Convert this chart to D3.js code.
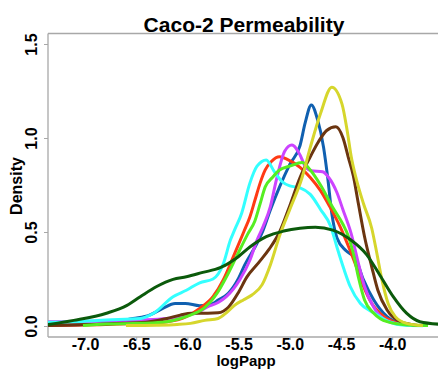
<!DOCTYPE html>
<html>
<head>
<meta charset="utf-8">
<script src="https://cdn.jsdelivr.net/npm/d3@7"></script>
<style>
    body { margin: 0; background: #fff; }
    text { font-family: "Liberation Sans", Arial, sans-serif; font-weight: bold; }
</style>
</head>
<body>
<div id="chart"></div>
<script>
// Tick labels
const xTicks = [-7.0, -6.5, -6.0, -5.5, -5.0, -4.5, -4.0];
const yTicks = [0.0, 0.5, 1.0, 1.5];

// Density curves, each as [logPapp, density]
const blueCurve = [[-7.4, 0.004], [-7.0, 0.008], [-6.79, 0.014], [-6.53, 0.04], [-6.37, 0.058], [-6.24, 0.094],
    [-6.12, 0.12], [-6.02, 0.12], [-5.88, 0.108], [-5.76, 0.118], [-5.7, 0.138], [-5.6, 0.174], [-5.5, 0.254],
    [-5.44, 0.325], [-5.32, 0.44], [-5.26, 0.51], [-5.19, 0.617], [-5.1, 0.74], [-5.0, 0.86], [-4.9, 0.96],
    [-4.85, 1.08], [-4.79, 1.176], [-4.73, 1.1], [-4.67, 0.95], [-4.63, 0.79], [-4.59, 0.6], [-4.54, 0.47],
    [-4.45, 0.4], [-4.36, 0.36], [-4.28, 0.245], [-4.18, 0.138], [-4.05, 0.05], [-3.92, 0.014], [-3.75, 0.002]];
const redCurve = [[-7.4, 0.003], [-6.8, 0.008], [-6.46, 0.014], [-6.2, 0.023], [-6.01, 0.05], [-5.88, 0.094],
    [-5.75, 0.156], [-5.65, 0.245], [-5.55, 0.37], [-5.45, 0.5], [-5.39, 0.58], [-5.34, 0.67], [-5.29, 0.76],
    [-5.24, 0.83], [-5.18, 0.875], [-5.1, 0.9], [-5.02, 0.885], [-4.9, 0.844], [-4.8, 0.79], [-4.7, 0.72],
    [-4.61, 0.635], [-4.51, 0.53], [-4.41, 0.4], [-4.35, 0.315], [-4.28, 0.21], [-4.2, 0.12], [-4.12, 0.068],
    [-3.99, 0.023], [-3.8, 0.003]];
const magentaCurve = [[-7.4, 0.023], [-6.79, 0.027], [-6.46, 0.032], [-6.2, 0.04], [-6.01, 0.058], [-5.91, 0.068],
    [-5.81, 0.1], [-5.7, 0.125], [-5.62, 0.156], [-5.49, 0.245], [-5.39, 0.35], [-5.32, 0.457], [-5.26, 0.53],
    [-5.19, 0.635], [-5.13, 0.78], [-5.05, 0.93], [-4.98, 0.963], [-4.9, 0.91], [-4.85, 0.85], [-4.79, 0.826],
    [-4.68, 0.82], [-4.62, 0.79], [-4.54, 0.71], [-4.48, 0.617], [-4.4, 0.49], [-4.33, 0.333], [-4.27, 0.21],
    [-4.18, 0.1], [-4.09, 0.04], [-3.96, 0.014], [-3.8, 0.002]];
const cyanCurve = [[-7.4, 0.02], [-7.11, 0.023], [-6.79, 0.032], [-6.46, 0.04], [-6.33, 0.068], [-6.14, 0.156],
    [-6.01, 0.19], [-5.88, 0.23], [-5.75, 0.25], [-5.65, 0.33], [-5.58, 0.457], [-5.54, 0.51], [-5.47, 0.6],
    [-5.39, 0.76], [-5.32, 0.85], [-5.23, 0.883], [-5.15, 0.82], [-5.08, 0.77], [-5.0, 0.745], [-4.9, 0.735],
    [-4.8, 0.7], [-4.7, 0.62], [-4.6, 0.53], [-4.54, 0.42], [-4.47, 0.3], [-4.41, 0.21], [-4.31, 0.12],
    [-4.18, 0.07], [-4.02, 0.02], [-3.9, 0.005], [-3.7, 0.001]];
const brownCurve = [[-7.4, 0.002], [-6.63, 0.014], [-6.37, 0.023], [-6.2, 0.04], [-6.07, 0.058], [-5.96, 0.068],
    [-5.8, 0.068], [-5.7, 0.07], [-5.6, 0.1], [-5.5, 0.18], [-5.42, 0.26], [-5.3, 0.34], [-5.2, 0.41],
    [-5.1, 0.5], [-5.0, 0.64], [-4.9, 0.79], [-4.8, 0.9], [-4.72, 0.98], [-4.64, 1.04], [-4.55, 1.06],
    [-4.48, 1.0], [-4.43, 0.9], [-4.38, 0.8], [-4.33, 0.65], [-4.27, 0.475], [-4.2, 0.315], [-4.14, 0.19],
    [-4.05, 0.085], [-3.92, 0.023], [-3.75, 0.003]];
const greenCurve = [[-7.02, 0.002], [-6.79, 0.01], [-6.46, 0.014], [-6.2, 0.023], [-6.07, 0.04], [-5.97, 0.058],
    [-5.84, 0.094], [-5.71, 0.174], [-5.62, 0.26], [-5.52, 0.37], [-5.41, 0.49], [-5.34, 0.56], [-5.29, 0.65],
    [-5.24, 0.74], [-5.17, 0.79], [-5.1, 0.83], [-5.0, 0.85], [-4.88, 0.87], [-4.8, 0.83], [-4.7, 0.75],
    [-4.58, 0.63], [-4.48, 0.54], [-4.43, 0.48], [-4.38, 0.387], [-4.33, 0.26], [-4.27, 0.138], [-4.18, 0.068],
    [-4.05, 0.023], [-3.83, 0.005], [-3.65, 0.002]];
const yellowCurve = [[-6.6, 0.002], [-6.3, 0.004], [-6.1, 0.008], [-5.97, 0.014], [-5.83, 0.03], [-5.7, 0.04],
    [-5.62, 0.07], [-5.54, 0.11], [-5.45, 0.14], [-5.37, 0.165], [-5.27, 0.22], [-5.19, 0.325], [-5.1, 0.48],
    [-5.0, 0.62], [-4.88, 0.79], [-4.8, 0.95], [-4.7, 1.13], [-4.59, 1.27], [-4.49, 1.18], [-4.44, 1.04],
    [-4.4, 0.9], [-4.35, 0.78], [-4.28, 0.65], [-4.2, 0.52], [-4.15, 0.387], [-4.1, 0.245], [-4.04, 0.12],
    [-3.97, 0.05], [-3.86, 0.014], [-3.7, 0.002]];
const darkGreenCurve = [[-7.4, 0.005], [-7.11, 0.03], [-6.79, 0.068], [-6.59, 0.11], [-6.46, 0.156], [-6.3, 0.21],
    [-6.14, 0.248], [-6.01, 0.262], [-5.85, 0.285], [-5.68, 0.31], [-5.5, 0.37], [-5.39, 0.42], [-5.23, 0.475],
    [-5.06, 0.505], [-4.9, 0.52], [-4.75, 0.525], [-4.58, 0.51], [-4.41, 0.46], [-4.25, 0.38], [-4.12, 0.27],
    [-3.99, 0.156], [-3.86, 0.068], [-3.73, 0.023], [-3.5, 0.008]];

const seriesList = [
    { values: blueCurve, color: '#1060b0' },
    { values: redCurve, color: '#ff3a14' },
    { values: magentaCurve, color: '#cc44ff' },
    { values: cyanCurve, color: '#33ffff' },
    { values: brownCurve, color: '#6b3510' },
    { values: greenCurve, color: '#55ee22' },
    { values: yellowCurve, color: '#d6d62c' },
    { values: darkGreenCurve, color: '#0b5a0b' }
];

function createDensityChart(containerId)
{
    const width = 438;
    const height = 369;
    const plot = { left: 48, right: 438, top: 33.5, bottom: 337 };
    const axisColor = '#a8a8a8';

    const svg = d3.select(containerId)
        .append('svg')
        .attr('width', width)
        .attr('height', height);

    // Scales (x reaches past the right edge of the window)
    const xScale = d3.scaleLinear()
        .domain([-7.0, -4.0])
        .range([85, 392.2]);

    const yScale = d3.scaleLinear()
        .domain([0, 1.5])
        .range([326, 44]);

    // Clip the curves to the plot box
    svg.append('clipPath')
        .attr('id', 'plot-clip')
        .append('rect')
        .attr('x', plot.left)
        .attr('y', plot.top)
        .attr('width', plot.right - plot.left)
        .attr('height', plot.bottom - plot.top);

    // Frame lines: left, top, bottom
    const frame = svg.append('g')
        .attr('stroke', axisColor)
        .attr('stroke-width', 1.3);
    frame.append('line').attr('x1', plot.left).attr('x2', plot.left).attr('y1', plot.top).attr('y2', plot.bottom);
    frame.append('line').attr('x1', plot.left).attr('x2', plot.right).attr('y1', plot.top).attr('y2', plot.top);
    frame.append('line').attr('x1', plot.left).attr('x2', plot.right).attr('y1', plot.bottom).attr('y2', plot.bottom);

    // Density lines
    const line = d3.line()
        .x(d => xScale(d[0]))
        .y(d => yScale(d[1]))
        .curve(d3.curveMonotoneX);

    svg.append('g')
        .attr('clip-path', 'url(#plot-clip)')
        .selectAll('path')
        .data(seriesList)
        .join('path')
        .attr('fill', 'none')
        .attr('stroke', d => d.color)
        .attr('stroke-width', 3)
        .attr('stroke-linejoin', 'round')
        .attr('d', d => line(d.values));

    // x-axis (plain hyphen minus, like the original)
    const xAxis = d3.axisBottom(xScale)
        .tickValues(xTicks)
        .tickFormat(d => d.toFixed(1))
        .tickSize(3)
        .tickPadding(-1);
    const gx = svg.append('g')
        .attr('transform', `translate(0, ${plot.bottom})`)
        .call(xAxis);
    gx.select('.domain').remove();
    gx.selectAll('line').attr('stroke', axisColor);
    gx.selectAll('text')
        .attr('fill', '#000')
        .style('font-size', '16px');

    // y-axis, labels turned sideways
    const yAxis = d3.axisLeft(yScale)
        .tickValues(yTicks)
        .tickFormat(d => d.toFixed(1))
        .tickSize(4);
    const gy = svg.append('g')
        .attr('transform', `translate(${plot.left}, 0)`)
        .call(yAxis);
    gy.select('.domain').remove();
    gy.selectAll('line').attr('stroke', axisColor);
    gy.selectAll('text')
        .attr('x', null)
        .attr('dy', null)
        .attr('fill', '#000')
        .attr('text-anchor', 'middle')
        .attr('transform', 'translate(-11, 0) rotate(-90)')
        .style('font-size', '16px');

    // Title and axis labels
    svg.append('text')
        .attr('x', 244)
        .attr('y', 32)
        .attr('text-anchor', 'middle')
        .style('font-size', '21px')
        .text('Caco-2 Permeability');

    svg.append('text')
        .attr('x', 246)
        .attr('y', 366)
        .attr('text-anchor', 'middle')
        .style('font-size', '15px')
        .text('logPapp');

    svg.append('text')
        .attr('transform', 'rotate(-90)')
        .attr('x', -186)
        .attr('y', 22)
        .attr('text-anchor', 'middle')
        .style('font-size', '16px')
        .text('Density');
}

createDensityChart('#chart');
</script>
</body>
</html>
